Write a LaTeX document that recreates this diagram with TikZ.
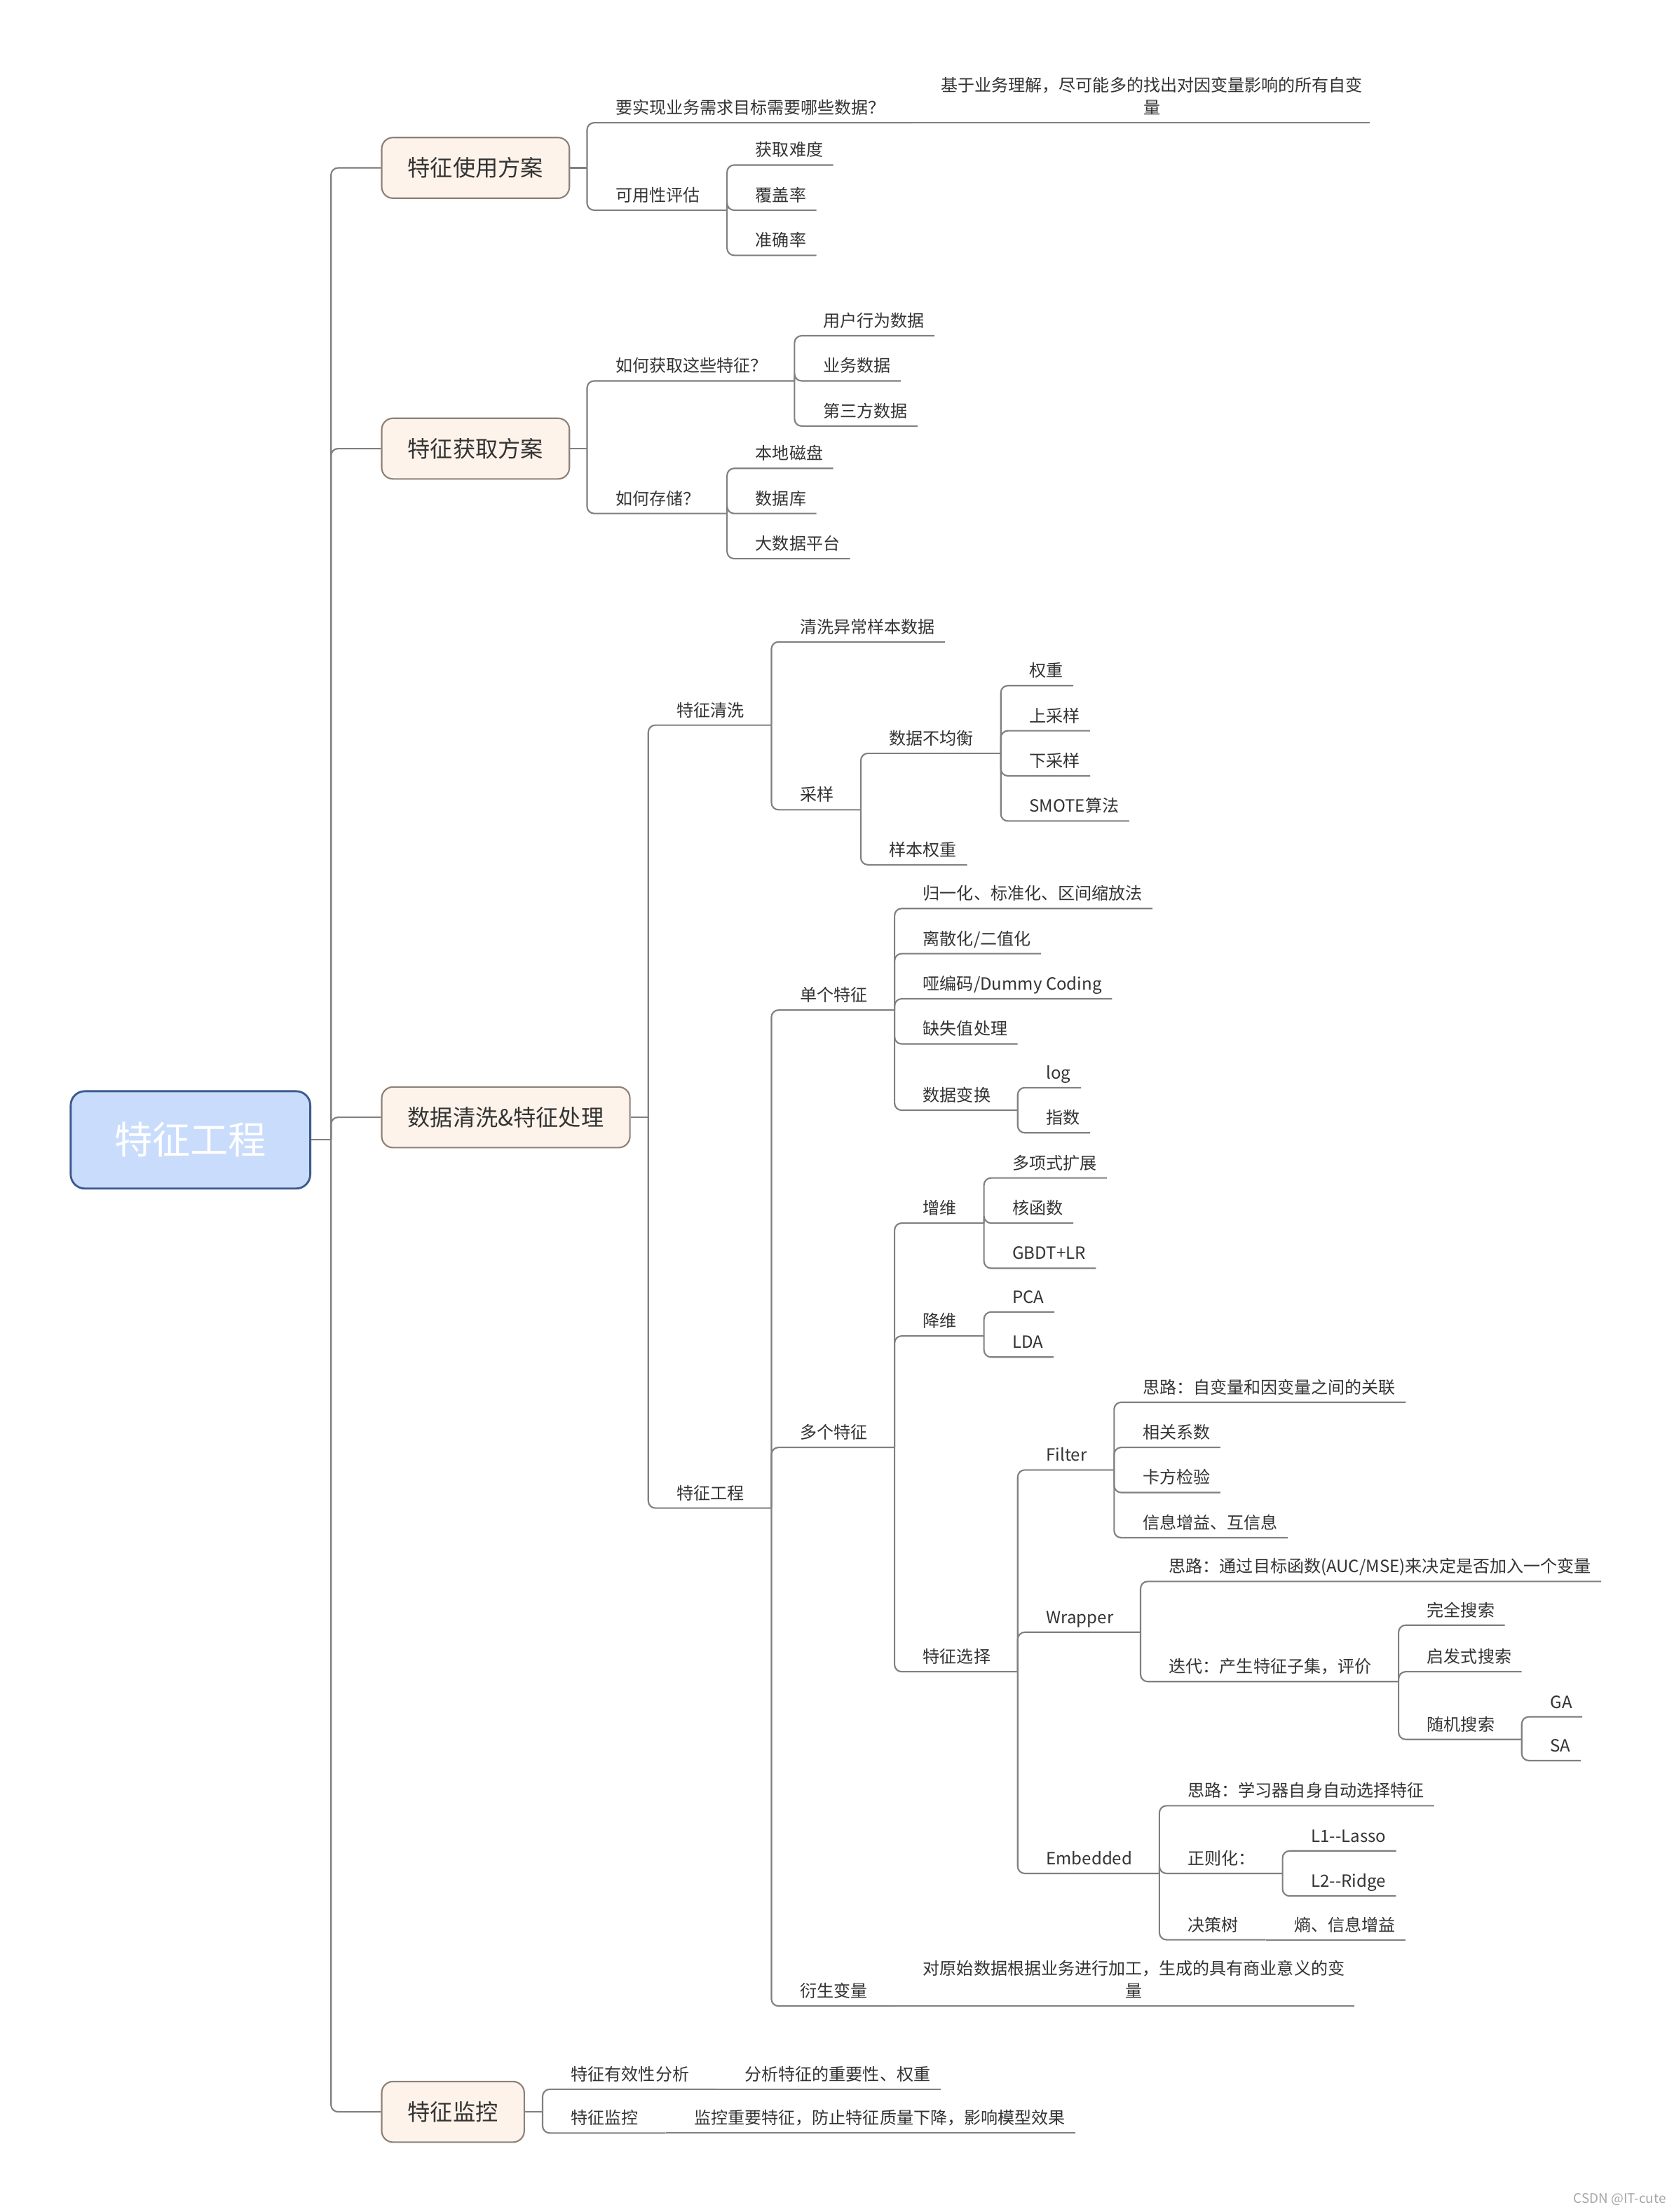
\documentclass[tikz,border=0pt]{standalone}
\usepackage{fontspec}
\setmainfont{Noto Sans CJK SC}
\usetikzlibrary{positioning,calc}
\definecolor{linegray}{HTML}{808080}
\definecolor{rootfill}{HTML}{C9DCFC}
\definecolor{rootdraw}{HTML}{3C5A8C}
\definecolor{mainfill}{HTML}{FEF3EA}
\definecolor{maindraw}{HTML}{8C8179}
\definecolor{inkgray}{HTML}{333333}

\begin{document}
\begin{tikzpicture}[
	x=0.03cm, y=-0.03cm,
	rootbox/.style={
		rectangle, draw=rootdraw, fill=rootfill, line width=1.2pt,
		rounded corners=0.3cm, minimum height=2.07cm, inner xsep=0.93cm,
		text=white, font=\fontsize{23pt}{28pt}\selectfont
	},
	mainbox/.style={
		rectangle, draw=maindraw, fill=mainfill, line width=0.9pt,
		rounded corners=0.24cm, minimum height=1.29cm, inner xsep=0.555cm,
		anchor=west, text=inkgray, font=\fontsize{13.66pt}{16pt}\selectfont
	},
	topic/.style={
		anchor=south west, inner xsep=0pt, inner ysep=0.12cm,
		text height=0.3cm, text depth=0.06cm,
		text=inkgray, font=\fontsize{10.2pt}{13.6pt}\selectfont
	},
	leaf/.style={
		topic, execute at begin node=\hspace*{0.6cm}, execute at end node=\hspace*{0.21cm}
	},
	knot/.style={
		topic, execute at begin node=\hspace*{0.6cm}, execute at end node=\hspace*{0.57cm}
	},
	note/.style={
		anchor=south west, inner xsep=0pt, inner ysep=1pt,
		text=inkgray, font=\fontsize{10.2pt}{13.6pt}\selectfont
	},
	link/.style={draw=linegray, line width=0.9pt, rounded corners=0.15cm}
	]
	
	% canvas
	\fill[white] (0,0) rectangle (1186,1568);
	
	% root
	\node[rootbox] (root) at (135,808) {特征工程};
	\coordinate (root-j) at ($(root.east)+(14,0)$);
	
	% usage plan
	\node[mainbox] (use) at (270,119) {特征使用方案};
	\coordinate (use-j) at ($(use.east)+(12,0)$);
	\node[knot] (use-data) at (use-j |- 0,87) {要实现业务需求目标需要哪些数据？};
	\node[note] (use-data-1) at (use-data.south east) {\hspace*{0.6cm}\begin{tabular}{@{}c@{}}基于业务理解，尽可能多的找出对因变量影响的所有自变\\量\end{tabular}\hspace*{0.15cm}};
	\node[knot] (use-eval) at (use-j |- 0,149) {可用性评估};
	\node[leaf] (use-eval-1) at (use-eval.south east |- 0,117) {获取难度};
	\node[leaf] (use-eval-2) at (use-eval.south east |- 0,149) {覆盖率};
	\node[leaf] (use-eval-3) at (use-eval.south east |- 0,181) {准确率};
	
	% acquisition plan
	\node[mainbox] (get) at (270,318) {特征获取方案};
	\coordinate (get-j) at ($(get.east)+(12,0)$);
	\node[knot] (get-how) at (get-j |- 0,270) {如何获取这些特征？};
	\node[leaf] (get-how-1) at (get-how.south east |- 0,238) {用户行为数据};
	\node[leaf] (get-how-2) at (get-how.south east |- 0,270) {业务数据};
	\node[leaf] (get-how-3) at (get-how.south east |- 0,302) {第三方数据};
	\node[knot] (get-store) at (get-j |- 0,364) {如何存储？};
	\node[leaf] (get-store-1) at (get-store.south east |- 0,332) {本地磁盘};
	\node[leaf] (get-store-2) at (get-store.south east |- 0,364) {数据库};
	\node[leaf] (get-store-3) at (get-store.south east |- 0,396) {大数据平台};
	
	% cleaning and processing
	\node[mainbox] (prep) at (270,792) {数据清洗\&特征处理};
	\coordinate (prep-j) at ($(prep.east)+(12.5,0)$);
	
	% cleaning
	\node[knot] (clean) at (prep-j |- 0,514) {特征清洗};
	\node[leaf] (clean-1) at (clean.south east |- 0,455) {清洗异常样本数据};
	\node[knot] (samp) at (clean.south east |- 0,574) {采样};
	\node[knot] (imbal) at (samp.south east |- 0,534) {数据不均衡};
	\node[leaf] (imbal-1) at (imbal.south east |- 0,486) {权重};
	\node[leaf] (imbal-2) at (imbal.south east |- 0,518) {上采样};
	\node[leaf] (imbal-3) at (imbal.south east |- 0,550) {下采样};
	\node[leaf] (imbal-4) at (imbal.south east |- 0,582) {SMOTE算法};
	\node[leaf] (samp-w) at (samp.south east |- 0,613) {样本权重};
	
	% engineering
	\node[knot] (feng) at (prep-j |- 0,1069) {特征工程};
	
	% single feature
	\node[knot] (single) at (feng.south east |- 0,716) {单个特征};
	\node[leaf] (single-1) at (single.south east |- 0,644) {归一化、标准化、区间缩放法};
	\node[leaf] (single-2) at (single.south east |- 0,676) {离散化/二值化};
	\node[leaf] (single-3) at (single.south east |- 0,708) {哑编码/Dummy Coding};
	\node[leaf] (single-4) at (single.south east |- 0,740) {缺失值处理};
	\node[knot] (trans) at (single.south east |- 0,787) {数据变换};
	\node[leaf] (trans-1) at (trans.south east |- 0,771) {log};
	\node[leaf] (trans-2) at (trans.south east |- 0,803) {指数};
	
	% multiple features
	\node[knot] (multi) at (feng.south east |- 0,1026) {多个特征};
	\node[knot] (up) at (multi.south east |- 0,867) {增维};
	\node[leaf] (up-1) at (up.south east |- 0,835) {多项式扩展};
	\node[leaf] (up-2) at (up.south east |- 0,867) {核函数};
	\node[leaf] (up-3) at (up.south east |- 0,899) {GBDT+LR};
	\node[knot] (down) at (multi.south east |- 0,947) {降维};
	\node[leaf] (down-1) at (down.south east |- 0,930) {PCA};
	\node[leaf] (down-2) at (down.south east |- 0,962) {LDA};
	
	% selection
	\node[knot] (sel) at (multi.south east |- 0,1185) {特征选择};
	\node[knot] (filter) at (sel.south east |- 0,1042) {Filter};
	\node[leaf] (filter-1) at (filter.south east |- 0,994) {思路：自变量和因变量之间的关联};
	\node[leaf] (filter-2) at (filter.south east |- 0,1026) {相关系数};
	\node[leaf] (filter-3) at (filter.south east |- 0,1058) {卡方检验};
	\node[leaf] (filter-4) at (filter.south east |- 0,1090) {信息增益、互信息};
	\node[knot] (wrap) at (sel.south east |- 0,1157) {Wrapper};
	\node[leaf] (wrap-1) at (wrap.south east |- 0,1121) {思路：通过目标函数(AUC/MSE)来决定是否加入一个变量};
	\node[knot] (iter) at (wrap.south east |- 0,1192) {迭代：产生特征子集，评价};
	\node[leaf] (iter-1) at (iter.south east |- 0,1152) {完全搜索};
	\node[leaf] (iter-2) at (iter.south east |- 0,1185) {启发式搜索};
	\node[knot] (rand) at (iter.south east |- 0,1233) {随机搜索};
	\node[leaf] (rand-1) at (rand.south east |- 0,1217) {GA};
	\node[leaf] (rand-2) at (rand.south east |- 0,1248) {SA};
	\node[knot] (embed) at (sel.south east |- 0,1328) {Embedded};
	\node[leaf] (embed-1) at (embed.south east |- 0,1280) {思路：学习器自身自动选择特征};
	\node[knot] (reg) at (embed.south east |- 0,1328) {正则化：};
	\node[leaf] (reg-1) at (reg.south east |- 0,1312) {L1-\kern0pt-Lasso};
	\node[leaf] (reg-2) at (reg.south east |- 0,1344) {L2-\kern0pt-Ridge};
	\node[knot] (tree) at (embed.south east |- 0,1375) {决策树};
	\node[leaf] (tree-1) at (tree.south east) {熵、信息增益};
	
	% derived
	\node[knot] (derive) at (feng.south east |- 0,1422) {衍生变量};
	\node[note] (derive-1) at (derive.south east) {\hspace*{0.6cm}\begin{tabular}{@{}c@{}}对原始数据根据业务进行加工，生成的具有商业意义的变\\量\end{tabular}\hspace*{0.2cm}};
	
	% monitoring
	\node[mainbox] (mon) at (270,1497) {特征监控};
	\coordinate (mon-j) at ($(mon.east)+(12.5,0)$);
	\node[knot] (mon-eff) at (mon-j |- 0,1481) {特征有效性分析};
	\node[leaf] (mon-eff-1) at (mon-eff.south east) {分析特征的重要性、权重};
	\node[knot] (mon-key) at (mon-j |- 0,1512) {特征监控};
	\node[leaf] (mon-key-1) at (mon-key.south east) {监控重要特征，防止特征质量下降，影响模型效果};
	
	% watermark
	\node[anchor=east, inner sep=0pt, text=gray!70, font=\fontsize{8pt}{9pt}\selectfont] (mark) at (1181,1559) {CSDN @IT-cute};
	
	% trunk
	\draw[link] (root.east) -- (root-j);
	\draw[link] (root-j) |- (use.west);
	\draw[link] (root-j) |- (get.west);
	\draw[link] (root-j) |- (prep.west);
	\draw[link] (root-j) |- (mon.west);
	
	% usage plan links
	\draw[link] (use.east) -- (use-j);
	\draw[link] (use-j) |- (use-data.south east);
	\draw[link] (use-data.south east) -- (use-data-1.south east);
	\draw[link] (use-j) |- (use-eval.south east);
	\draw[link] (use-eval.south east) |- (use-eval-1.south east);
	\draw[link] (use-eval.south east) |- (use-eval-2.south east);
	\draw[link] (use-eval.south east) |- (use-eval-3.south east);
	
	% acquisition plan links
	\draw[link] (get.east) -- (get-j);
	\draw[link] (get-j) |- (get-how.south east);
	\draw[link] (get-how.south east) |- (get-how-1.south east);
	\draw[link] (get-how.south east) |- (get-how-2.south east);
	\draw[link] (get-how.south east) |- (get-how-3.south east);
	\draw[link] (get-j) |- (get-store.south east);
	\draw[link] (get-store.south east) |- (get-store-1.south east);
	\draw[link] (get-store.south east) |- (get-store-2.south east);
	\draw[link] (get-store.south east) |- (get-store-3.south east);
	
	% cleaning links
	\draw[link] (prep.east) -- (prep-j);
	\draw[link] (prep-j) |- (clean.south east);
	\draw[link] (clean.south east) |- (clean-1.south east);
	\draw[link] (clean.south east) |- (samp.south east);
	\draw[link] (samp.south east) |- (imbal.south east);
	\draw[link] (imbal.south east) |- (imbal-1.south east);
	\draw[link] (imbal.south east) |- (imbal-2.south east);
	\draw[link] (imbal.south east) |- (imbal-3.south east);
	\draw[link] (imbal.south east) |- (imbal-4.south east);
	\draw[link] (samp.south east) |- (samp-w.south east);
	
	% engineering links
	\draw[link] (prep-j) |- (feng.south east);
	\draw[link] (feng.south east) |- (single.south east);
	\draw[link] (single.south east) |- (single-1.south east);
	\draw[link] (single.south east) |- (single-2.south east);
	\draw[link] (single.south east) |- (single-3.south east);
	\draw[link] (single.south east) |- (single-4.south east);
	\draw[link] (single.south east) |- (trans.south east);
	\draw[link] (trans.south east) |- (trans-1.south east);
	\draw[link] (trans.south east) |- (trans-2.south east);
	\draw[link] (feng.south east) |- (multi.south east);
	\draw[link] (multi.south east) |- (up.south east);
	\draw[link] (up.south east) |- (up-1.south east);
	\draw[link] (up.south east) |- (up-2.south east);
	\draw[link] (up.south east) |- (up-3.south east);
	\draw[link] (multi.south east) |- (down.south east);
	\draw[link] (down.south east) |- (down-1.south east);
	\draw[link] (down.south east) |- (down-2.south east);
	\draw[link] (multi.south east) |- (sel.south east);
	\draw[link] (sel.south east) |- (filter.south east);
	\draw[link] (filter.south east) |- (filter-1.south east);
	\draw[link] (filter.south east) |- (filter-2.south east);
	\draw[link] (filter.south east) |- (filter-3.south east);
	\draw[link] (filter.south east) |- (filter-4.south east);
	\draw[link] (sel.south east) |- (wrap.south east);
	\draw[link] (wrap.south east) |- (wrap-1.south east);
	\draw[link] (wrap.south east) |- (iter.south east);
	\draw[link] (iter.south east) |- (iter-1.south east);
	\draw[link] (iter.south east) |- (iter-2.south east);
	\draw[link] (iter.south east) |- (rand.south east);
	\draw[link] (rand.south east) |- (rand-1.south east);
	\draw[link] (rand.south east) |- (rand-2.south east);
	\draw[link] (sel.south east) |- (embed.south east);
	\draw[link] (embed.south east) |- (embed-1.south east);
	\draw[link] (embed.south east) |- (reg.south east);
	\draw[link] (reg.south east) |- (reg-1.south east);
	\draw[link] (reg.south east) |- (reg-2.south east);
	\draw[link] (embed.south east) |- (tree.south east);
	\draw[link] (tree.south east) -- (tree-1.south east);
	\draw[link] (feng.south east) |- (derive.south east);
	\draw[link] (derive.south east) -- (derive-1.south east);
	
	% monitoring links
	\draw[link] (mon.east) -- (mon-j);
	\draw[link] (mon-j) |- (mon-eff.south east);
	\draw[link] (mon-eff.south east) -- (mon-eff-1.south east);
	\draw[link] (mon-j) |- (mon-key.south east);
	\draw[link] (mon-key.south east) -- (mon-key-1.south east);
\end{tikzpicture}
\end{document}
